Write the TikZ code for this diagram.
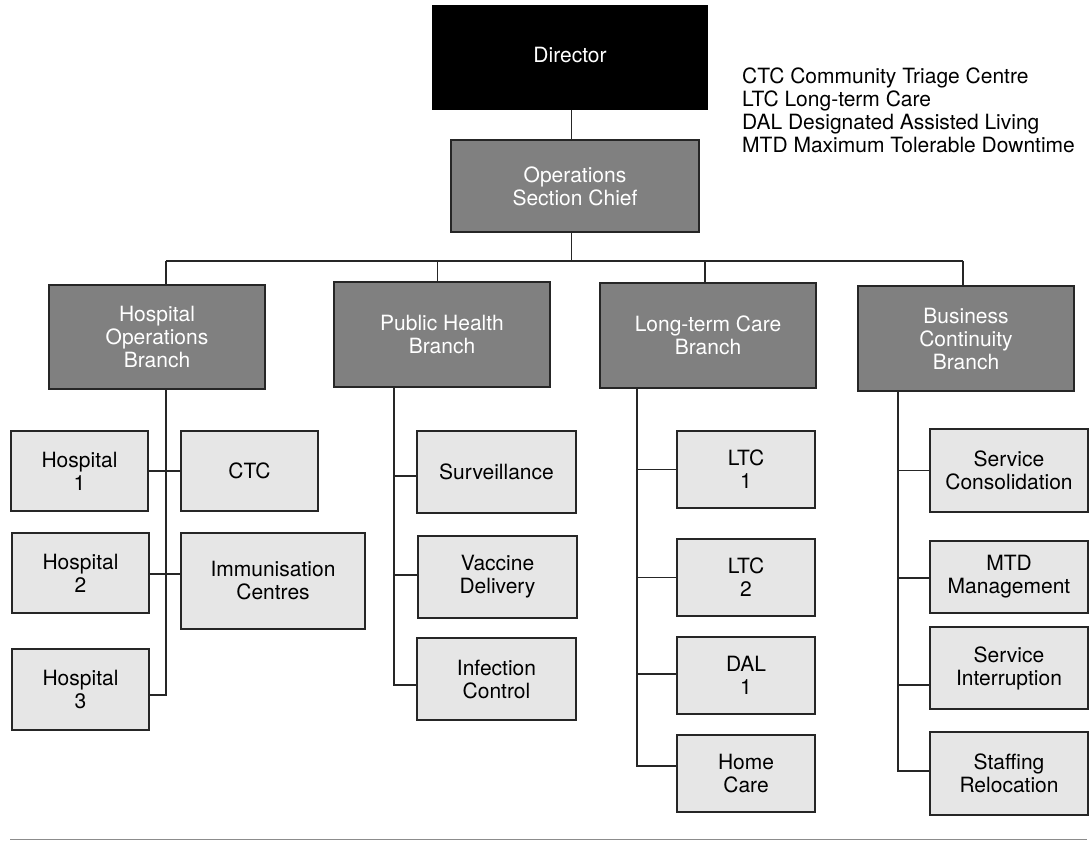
\documentclass[tikz,border=0pt]{standalone}
\usepackage{fontspec}
\setmainfont{TeX Gyre Heros}
\definecolor{branchgray}{HTML}{808080}
\definecolor{leafgray}{HTML}{E6E6E6}
\definecolor{edge}{HTML}{262626}
\definecolor{rulegray}{HTML}{8C8C8C}
\begin{document}
\begin{tikzpicture}[x=1pt,y=-1pt,
  box/.style={rectangle, draw=edge, line width=1.3pt, inner sep=0pt, align=center,
              font=\fontsize{21}{23}\selectfont},
  sz/.style 2 args={minimum width=#1pt, minimum height=#2pt},
  chief/.style={box, fill=black, draw=black, text=white},
  branch/.style={box, fill=branchgray, text=white},
  leaf/.style={box, fill=leafgray, text=black},
  link/.style={draw=edge, line width=1.3pt},
  legend/.style={anchor=base west, inner sep=0pt, font=\fontsize{21}{23}\selectfont},
]
\useasboundingbox (0,0) rectangle (1089,841);

% top of the chart
\node[chief, sz={274}{103}, text depth=6pt] (dir) at (570,57.5) {Director};
\node[branch, sz={248}{92}] (ops) at (575,186) {Operations\\Section Chief};

% legend of abbreviations
\node[legend] (lg1) at (742,83) {CTC Community Triage Centre};
\node[legend] (lg2) at (742,106) {LTC Long-term Care};
\node[legend] (lg3) at (742,129) {DAL Designated Assisted Living};
\node[legend] (lg4) at (742,152) {MTD Maximum Tolerable Downtime};

% branches
\node[branch, sz={216}{104}] (hob) at (157,337) {Hospital\\Operations\\Branch};
\node[branch, sz={216}{105}] (phb) at (442,334.5) {Public Health\\Branch};
\node[branch, sz={216}{105}] (ltcb) at (708,335.5) {Long-term Care\\Branch};
\node[branch, sz={216}{105}] (bcb) at (966,338.5) {Business\\Continuity\\Branch};

% hospital operations units
\node[leaf, sz={137}{80}] (h1) at (79.5,471) {Hospital\\1};
\node[leaf, sz={137}{80}] (ctc) at (249.5,471) {CTC};
\node[leaf, sz={137}{80}] (h2) at (80.5,573) {Hospital\\2};
\node[leaf, sz={184}{96}] (imm) at (273,581) {Immunisation\\Centres};
\node[leaf, sz={137}{81}] (h3) at (80.5,689.5) {Hospital\\3};

% public health units
\node[leaf, sz={159}{82}] (surv) at (496.5,472) {Surveillance};
\node[leaf, sz={159}{82}] (vac) at (497.5,577) {Vaccine\\Delivery};
\node[leaf, sz={159}{82}] (inf) at (496.5,679) {Infection\\Control};

% long-term care units
\node[leaf, sz={138}{77}] (ltc1) at (746,469.5) {LTC\\1};
\node[leaf, sz={138}{77}] (ltc2) at (746,577.5) {LTC\\2};
\node[leaf, sz={138}{77}] (dal1) at (746,675.5) {DAL\\1};
\node[leaf, sz={138}{77}] (home) at (746,773.5) {Home\\Care};

% business continuity units
\node[leaf, sz={158}{83}] (sc) at (1009,470.5) {Service\\Consolidation};
\node[leaf, sz={158}{72}] (mtd) at (1009,577) {MTD\\Management};
\node[leaf, sz={158}{82}] (si) at (1009,668) {Service\\Interruption};
\node[leaf, sz={158}{83}] (sr) at (1009,773.5) {Staffing\\Relocation};

% trunk and bus
\coordinate (bus) at (571.5,261);
\coordinate (tapH) at (166,261);
\coordinate (tapP) at (437.5,261);
\coordinate (tapL) at (705,261);
\coordinate (tapB) at (963,261);
\draw[link] (dir.south -| bus) -- (ops.north -| bus);
\draw[link] (ops.south -| bus) -- (bus);
\draw[link] (tapH) -- (tapB);
\draw[link] (tapH) -- (tapH |- hob.north);
\draw[link] (tapP) -- (tapP |- phb.north);
\draw[link] (tapL) -- (tapL |- ltcb.north);
\draw[link] (tapB) -- (tapB |- bcb.north);

% hospital operations spine
\coordinate (spH) at (166,695);
\draw[link] (tapH |- hob.south) -- (spH) -- (spH -| h3.east);
\draw[link] (h1.east) -- (ctc.west);
\draw[link] ([yshift=-1pt]h2.east) -- ([yshift=-1pt]h2.east -| imm.west);

% public health spine
\coordinate (spP) at (394,685);
\draw[link] (phb.south -| spP) -- (spP) -- ([yshift=-6pt]inf.west);
\draw[link] ([yshift=-4pt]surv.west) -- ([yshift=-4pt]surv.west -| spP);
\draw[link] ([yshift=2pt]vac.west) -- ([yshift=2pt]vac.west -| spP);

% long-term care spine
\coordinate (spL) at (637,766);
\draw[link] (ltcb.south -| spL) -- (spL) -- ([yshift=7.5pt]home.west);
\draw[link] (ltc1.west) -- (ltc1.west -| spL);
\draw[link] (ltc2.west) -- (ltc2.west -| spL);
\draw[link] ([yshift=1.5pt]dal1.west) -- ([yshift=1.5pt]dal1.west -| spL);

% business continuity spine
\coordinate (spB) at (898,771);
\draw[link] (bcb.south -| spB) -- (spB) -- ([yshift=2.5pt]sr.west);
\draw[link] (sc.west) -- (sc.west -| spB);
\draw[link] ([yshift=-1pt]mtd.west) -- ([yshift=-1pt]mtd.west -| spB);
\draw[link] ([yshift=-17pt]si.west) -- ([yshift=-17pt]si.west -| spB);

% closing rule
\coordinate (ruleL) at (10,839.5);
\coordinate (ruleR) at (1087,839.5);
\draw[rulegray, line width=1.6pt] (ruleL) -- (ruleR);
\end{tikzpicture}
\end{document}
